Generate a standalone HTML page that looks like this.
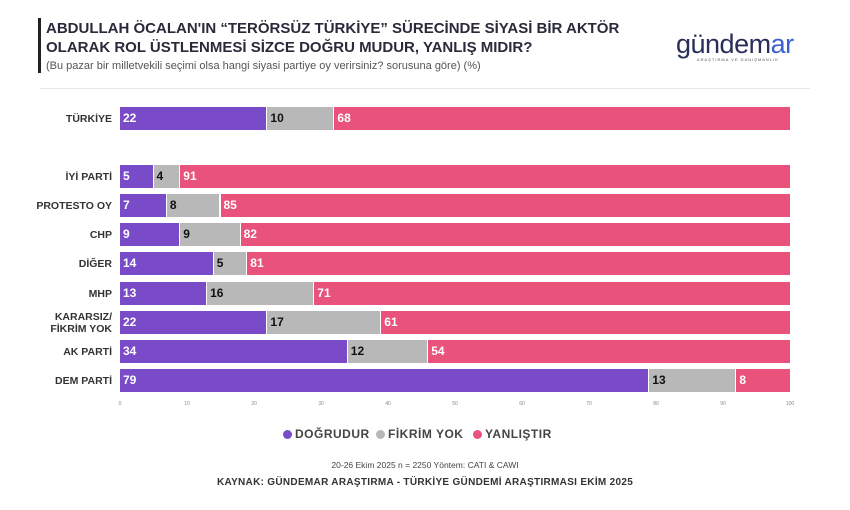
<!DOCTYPE html>
<html><head><meta charset="utf-8"><style>
body{margin:0;width:850px;height:510px;background:#fff;font-family:"Liberation Sans",sans-serif;position:relative;overflow:hidden}
.t{position:absolute;left:46px;font-weight:bold;font-size:15px;color:#2a2a3a;line-height:19px}
.sub{position:absolute;left:46px;top:60px;font-size:11px;color:#555}
.vbar{position:absolute;left:38px;top:18px;width:3px;height:55px;background:#222}
.hr{position:absolute;left:40px;top:88px;width:770px;height:1px;background:#e6e6e6}
.lab{position:absolute;right:738px;font-weight:bold;font-size:10.5px;color:#333;text-align:right;line-height:12px}
.seg{position:absolute;height:23px;font-weight:bold;font-size:12px;line-height:23px;padding-left:3px;box-sizing:border-box}
.p{background:#7a4bc8;color:#fff}.g{background:#b8b8b8;color:#111}.r{background:#e8527b;color:#fff}
.tick{position:absolute;top:401px;font-size:5px;color:#888;transform:translateX(-50%)}
.leg{position:absolute;top:427px;font-weight:bold;font-size:12px;color:#444;letter-spacing:.5px}
.dot{display:inline-block;width:9px;height:9px;border-radius:50%;margin-right:3px;vertical-align:-1px}
</style></head><body>
<div class="vbar"></div>
<div class="t" style="top:19px">ABDULLAH ÖCALAN'IN “TERÖRSÜZ TÜRKİYE” SÜRECİNDE SİYASİ BİR AKTÖR</div>
<div class="t" style="top:38px">OLARAK ROL ÜSTLENMESİ SİZCE DOĞRU MUDUR, YANLIŞ MIDIR?</div>
<div class="sub">(Bu pazar bir milletvekili seçimi olsa hangi siyasi partiye oy verirsiniz? sorusuna göre) (%)</div>
<div style="position:absolute;left:676px;top:30px;font-size:27px;color:#2a2f5a;letter-spacing:-0.5px;line-height:28px">gündem<span style="color:#3b5fd0">ar</span></div>
<div style="position:absolute;left:697px;top:57px;font-size:4px;color:#555;letter-spacing:1px">ARAŞTIRMA VE DANIŞMANLIK</div>
<div class="hr"></div>
<div id="c"></div>
<div class="leg" style="left:283px"><span class="dot" style="background:#7a4bc8"></span>DOĞRUDUR</div>
<div class="leg" style="left:376px"><span class="dot" style="background:#b8b8b8"></span>FİKRİM YOK</div>
<div class="leg" style="left:473px"><span class="dot" style="background:#e8527b"></span>YANLIŞTIR</div>
<div style="position:absolute;top:460px;width:850px;text-align:center;font-size:8.5px;color:#444">20-26 Ekim 2025 n = 2250 Yöntem: CATI &amp; CAWI</div>
<div style="position:absolute;top:477px;width:850px;text-align:center;font-size:10px;font-weight:bold;color:#333;letter-spacing:.3px">KAYNAK: GÜNDEMAR ARAŞTIRMA - TÜRKİYE GÜNDEMİ ARAŞTIRMASI EKİM 2025</div>
<script>
var rows=[["TÜRKİYE",107,22,10,68],["İYİ PARTİ",165,5,4,91],["PROTESTO OY",194,7,8,85],["CHP",223,9,9,82],["DİĞER",252,14,5,81],["MHP",282,13,16,71],["KARARSIZ/<br>FİKRİM YOK",311,22,17,61],["AK PARTİ",340,34,12,54],["DEM PARTİ",369,79,13,8]];
var h="",x0=120,s=6.7;
rows.forEach(function(r){var y=r[1];var two=r[0].indexOf("<br>")>0;
h+='<div class="lab" style="top:'+(two?y:y+6)+'px">'+r[0]+'</div>';
var a=x0,w1=r[2]*s,w2=r[3]*s,w3=r[4]*s;
h+='<div class="seg p" style="left:'+a+'px;top:'+y+'px;width:'+(w1-1)+'px">'+r[2]+'</div>';
h+='<div class="seg g" style="left:'+(a+w1)+'px;top:'+y+'px;width:'+(w2-1)+'px">'+r[3]+'</div>';
h+='<div class="seg r" style="left:'+(a+w1+w2)+'px;top:'+y+'px;width:'+w3+'px">'+r[4]+'</div>';});
for(var i=0;i<=100;i+=10)h+='<div class="tick" style="left:'+(x0+i*s)+'px">'+i+'</div>';
document.getElementById("c").innerHTML=h;
</script>
</body></html>
